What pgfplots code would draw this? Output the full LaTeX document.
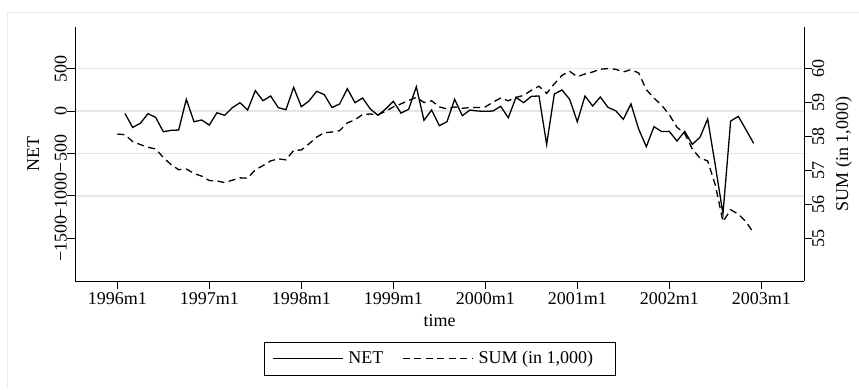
\documentclass[border=0pt]{standalone}
\usepackage{fontspec}
\setmainfont{Liberation Serif}
\usepackage{pgfplots}
\pgfplotsset{compat=1.18}
\pgfplotstableread{
m net
1 -30
2 -193
3 -145
4 -31
5 -75
6 -244
7 -228
8 -224
9 138
10 -126
11 -106
12 -165
13 -20
14 -51
15 39
16 98
17 12
18 240
19 122
20 177
21 39
22 16
23 279
24 51
25 118
26 232
27 193
28 41
29 83
30 263
31 98
32 153
33 24
34 -51
35 24
36 114
37 -24
38 20
39 287
40 -110
41 12
42 -173
43 -126
44 138
45 -55
46 12
47 0
48 -4
49 0
50 55
51 -79
52 161
53 98
54 173
55 177
56 -393
57 200
58 248
59 138
60 -126
61 177
62 59
63 165
64 43
65 4
66 -98
67 83
68 -212
69 -421
70 -185
71 -242
72 -240
73 -354
74 -240
75 -393
76 -310
77 -94
78 -640
79 -1212
80 -118
81 -63
82 -220
83 -381
}\netdata
\pgfplotstableread{
m sum
0 58.07
1 58.05
2 57.85
3 57.76
4 57.68
5 57.63
6 57.38
7 57.17
8 57.02
9 57.04
10 56.91
11 56.83
12 56.70
13 56.69
14 56.64
15 56.71
16 56.78
17 56.77
18 57.02
19 57.14
20 57.28
21 57.34
22 57.31
23 57.59
24 57.60
25 57.78
26 57.98
27 58.11
28 58.13
29 58.17
30 58.40
31 58.49
32 58.65
33 58.66
34 58.64
35 58.74
36 58.87
37 58.96
38 59.06
39 59.15
40 59.00
41 59.05
42 58.87
43 58.81
44 58.87
45 58.83
46 58.85
47 58.85
48 58.87
49 59.01
50 59.13
51 59.05
52 59.15
53 59.21
54 59.36
55 59.48
56 59.27
57 59.55
58 59.80
59 59.92
60 59.76
61 59.84
62 59.90
63 59.98
64 60.00
65 59.98
66 59.90
67 59.97
68 59.87
69 59.38
70 59.13
71 58.92
72 58.64
73 58.27
74 58.09
75 57.63
76 57.36
77 57.28
78 56.57
79 55.49
80 55.84
81 55.71
82 55.49
83 55.15
}\sumdata
\begin{document}
\fontsize{18}{21}\selectfont
\begin{tikzpicture}[x=1pt,y=1pt]
\path[use as bounding box] (0,0) rectangle (859,389);
\draw[black!8, line width=0.8pt] (7,0) -- (7,377) -- (859,377);
\pgfplotsset{
  common/.style={
    at={(75pt,108pt)}, anchor=south west,
    scale only axis, width=729pt, height=254pt,
    xmin=-5.52, xmax=89.57,
    tick align=outside, major tick length=8pt,
    tick style={black, line width=0.9pt},
    axis line style={black, line width=0.9pt},
    every tick label/.append style={font=\fontsize{18}{21}\selectfont},
    label style={font=\fontsize{18}{21}\selectfont},
  }
}
\begin{axis}[common,
  ymin=-2003, ymax=990,
  axis x line*=bottom, axis y line*=left,
  xtick={0,12,24,36,48,60,72,84},
  xticklabels={1996m1,1997m1,1998m1,1999m1,2000m1,2001m1,2002m1,2003m1},
  xticklabel style={anchor=north, inner sep=0pt, yshift=-3pt},
  ytick={-1000,-500,0,500},
  yticklabels={−1000,−500,0,500},
  extra y ticks={-1500}, extra y tick labels={−1500},
  extra y tick style={grid=none},
  ymajorgrids, major grid style={draw=black!10, line width=1.6pt},
  yticklabel style={rotate=90, anchor=south, inner sep=0pt},
  xlabel={time},
  xlabel style={at={(axis description cs:0.5,-0.18)}, anchor=base, inner sep=0pt},
  ylabel={NET},
  ylabel style={at={(axis description cs:-0.049,0.5)}, anchor=south, inner sep=0pt},
  legend columns=2,
  legend style={at={(axis description cs:0.5,-0.239)}, anchor=north,
    draw=black, line width=0.8pt, inner xsep=8pt, inner ysep=7pt,
    font=\fontsize{18}{21}\selectfont,
    /tikz/every odd column/.append style={column sep=3pt},
    /tikz/every even column/.append style={column sep=17pt}},
  legend image code/.code={\draw[#1] (0pt,0pt) -- (70pt,0pt);},
]
\addplot[black, line width=1.3pt] table[x=m, y=net] {\netdata};
\addlegendentry{NET}
\addlegendimage{black, line width=1.3pt, dash pattern=on 7pt off 4.5pt}
\addlegendentry{SUM (in 1,000)\hspace*{12pt}}
\end{axis}
\begin{axis}[common,
  ymin=53.74, ymax=61.225,
  axis x line=none, axis y line*=right,
  ytick={55,56,57,58,59,60},
  yticklabels={55,56,57,58,59,60},
  yticklabel style={rotate=90, anchor=north, inner sep=0pt},
  ylabel={SUM (in 1,000)},
  ylabel style={at={(axis description cs:1.0431,0.5)}, anchor=north, inner sep=0pt},
]
\addplot[black, line width=1.3pt, dash pattern=on 7pt off 4.5pt] table[x=m, y=sum] {\sumdata};
\end{axis}
\end{tikzpicture}
\end{document}
